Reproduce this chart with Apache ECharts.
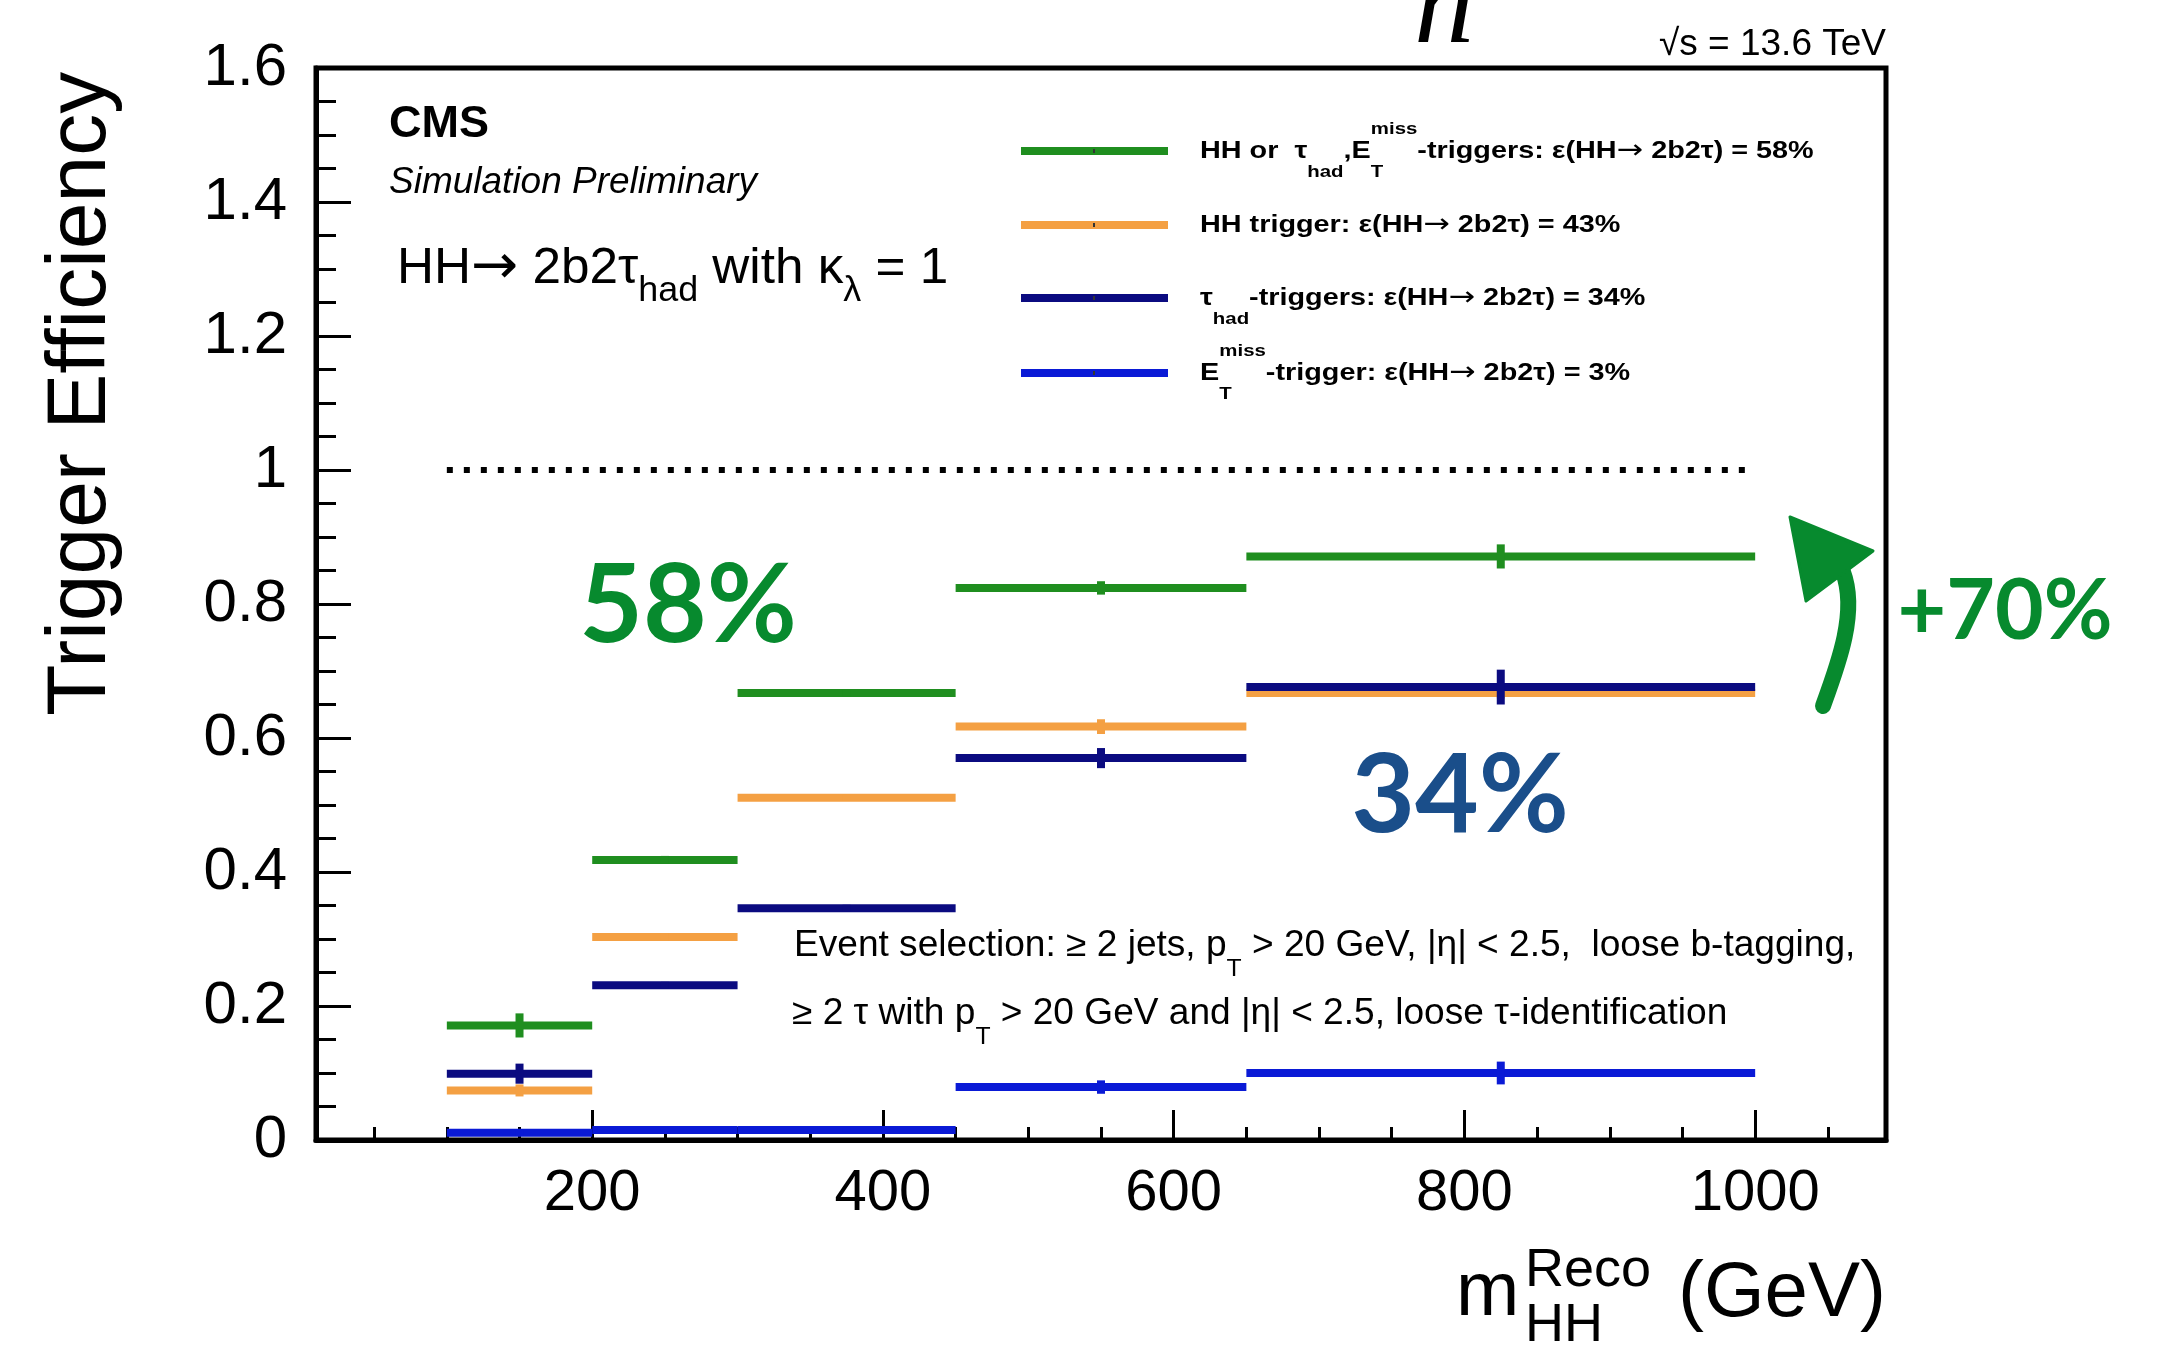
<!DOCTYPE html>
<html>
<head>
<meta charset="utf-8">
<script src="https://cdn.jsdelivr.net/npm/echarts@6/dist/echarts.min.js"></script>
<style>
  html, body { margin: 0; padding: 0; background: #ffffff; }
  #chart { width: 2172px; height: 1346px; }
</style>
</head>
<body>
<div id="chart"></div>
<script>
// m_HH^Reco bins (GeV)
const binLow    = [100, 200, 300, 450, 650];
const binHigh   = [200, 300, 450, 650, 1000];
const binCenter = [150, 250, 375, 550, 825];

// Trigger efficiency per bin and its uncertainty
const effHHorTauMet = [0.171, 0.418, 0.667, 0.824, 0.871];
const errHHorTauMet = [0.018, 0.006, 0.005, 0.010, 0.018];
const effHH         = [0.074, 0.303, 0.511, 0.617, 0.667];
const errHH         = [0.009, 0.006, 0.004, 0.011, 0.008];
const effTau        = [0.099, 0.231, 0.346, 0.570, 0.676];
const errTau        = [0.015, 0.005, 0.005, 0.015, 0.026];
const effMet        = [0.011, 0.015, 0.015, 0.079, 0.100];
const errMet        = [0.005, 0.003, 0.003, 0.010, 0.017];

// Reference line at efficiency = 1
const unityLine = [[100, 1], [1000, 1]];

// Axis ticks
const xMajorTicks = [200, 400, 600, 800, 1000];
const xMinorTicks = [50, 100, 150, 250, 300, 350, 450, 500, 550, 650, 700, 750, 850, 900, 950, 1050];

// Legend labels (rich text markup)
const legendLabels = [
  '{m|HH or  τ}{s|had}{m|,E}{t|T}{p|miss}{m|-triggers: ε(HH}{a|→}{m| 2b2τ) = 58%}',
  '{m|HH trigger: ε(HH}{a|→}{m| 2b2τ) = 43%}',
  '{m|τ}{s|had}{m|-triggers: ε(HH}{a|→}{m| 2b2τ) = 34%}',
  '{m|E}{t|T}{p|miss}{m|-trigger: ε(HH}{a|→}{m| 2b2τ) = 3%}'
];

const C_GREEN  = '#1f8e1f';
const C_ORANGE = '#f4a043';
const C_NAVY   = '#0b0b80';
const C_BLUE   = '#0a1ad6';
const C_ANNOT_GREEN = '#078a2e';
const C_ANNOT_BLUE  = '#1a4e8a';
const SANS = 'Liberation Sans';

// Horizontal bin segment + vertical error bar, drawn through the axis scales
function stepSeries(name, color, eff, err) {
  const data = eff.map((v, i) => [binLow[i], binHigh[i], binCenter[i], v, err[i]]);
  return {
    type: 'custom',
    name: name,
    data: data,
    xAxisIndex: 0,
    yAxisIndex: 0,
    encode: { x: [0, 1, 2], y: 3 },
    clip: false,
    silent: true,
    z: 3,
    renderItem: function (params, api) {
      const y = api.value(3), e = api.value(4), xc = api.value(2);
      const a = api.coord([api.value(0), y]);
      const b = api.coord([api.value(1), y]);
      const t = api.coord([xc, y + e]);
      const u = api.coord([xc, y - e]);
      return {
        type: 'group',
        children: [
          { type: 'line', shape: { x1: a[0], y1: a[1], x2: b[0], y2: b[1] },
            style: { stroke: color, lineWidth: 8 } },
          { type: 'line', shape: { x1: t[0], y1: t[1], x2: u[0], y2: u[1] },
            style: { stroke: color, lineWidth: 8 } }
        ]
      };
    }
  };
}

// Rich-text styles: m = main, s = subscript, t = stacked subscript (zero advance),
// p = superscript, a = arrow glyph
function richSet(fs, L, subFs, d, supFs, u, extra) {
  const base = Object.assign({ fontFamily: SANS, fill: '#000' }, extra || {});
  return {
    m: Object.assign({}, base, { fontSize: fs, lineHeight: L, verticalAlign: 'middle' }),
    a: Object.assign({}, base, { fontSize: fs * 1.1, lineHeight: L, verticalAlign: 'middle',
                                 fontFamily: 'DejaVu Sans', fontWeight: 'normal' }),
    s: Object.assign({}, base, { fontSize: subFs, lineHeight: L - 2 * d, verticalAlign: 'bottom' }),
    t: Object.assign({}, base, { fontSize: subFs, lineHeight: L - 2 * d, verticalAlign: 'bottom', width: 0.1 }),
    p: Object.assign({}, base, { fontSize: supFs, lineHeight: L - 2 * u, verticalAlign: 'top' })
  };
}

function txt(x, y, style, extra) {
  return Object.assign({
    type: 'text', x: x, y: y, silent: true, z: 20,
    style: Object.assign({ x: 0, y: 0, fill: '#000', align: 'left', verticalAlign: 'middle', fontFamily: SANS }, style)
  }, extra || {});
}

const graphics = [];

// Axis titles
graphics.push(txt(82, 716, { text: 'Trigger Efficiency', fontSize: 84 }, { rotation: Math.PI / 2 }));
graphics.push(txt(1456, 1294, { text: 'm', fontSize: 76 }));
graphics.push(txt(1525, 1271, { text: 'Reco', fontSize: 54 }));
graphics.push(txt(1525, 1326, { text: 'HH', fontSize: 54 }));
graphics.push(txt(1886, 1294, { text: '(GeV)', fontSize: 78, align: 'right' }));

// Experiment labels
graphics.push(txt(389, 125, { text: 'CMS', fontSize: 45, fontWeight: 'bold' }));
graphics.push(txt(389, 183, { text: 'Simulation Preliminary', fontSize: 37, fontStyle: 'italic' }));
graphics.push(txt(397, 269, {
  text: '{m|HH}{a|→}{m| 2b2τ}{s|had}{m| with κ}{s|λ}{m| = 1}',
  rich: richSet(50, 80, 35, 22, 35, 22)
}, { scaleX: 1.025 }));
graphics.push(txt(1886, 45, { text: '√s = 13.6 TeV', fontSize: 37, align: 'right' }));

// Partially visible heading glyph at the top edge
graphics.push(txt(1414, 10, { text: 'h', fontSize: 120, fontFamily: 'Liberation Serif', fontStyle: 'italic' }));

// Legend
const legendColors = [C_GREEN, C_ORANGE, C_NAVY, C_BLUE];
const legendY = [151, 225, 298, 373];
legendLabels.forEach(function (lab, i) {
  graphics.push({ type: 'line', silent: true, z: 20,
    shape: { x1: 1021, y1: legendY[i], x2: 1168, y2: legendY[i] },
    style: { stroke: legendColors[i], lineWidth: 8 } });
  graphics.push({ type: 'rect', silent: true, z: 21,
    shape: { x: 1093, y: legendY[i] - 2, width: 2, height: 4 },
    style: { fill: '#333' } });
  graphics.push(txt(1200, legendY[i], {
    text: lab,
    rich: richSet(24, 60, 17, 15, 17, 16, { fontWeight: 'bold' })
  }, { scaleX: 1.2 }));
});

// Event selection note
graphics.push(txt(794, 946, {
  text: '{m|Event selection: ≥ 2 jets, p}{s|T}{m| > 20 GeV, |η| < 2.5,  loose b-tagging,}',
  rich: richSet(36, 70, 24, 23, 24, 20)
}, { scaleX: 1.03 }));
graphics.push(txt(792, 1014, {
  text: '{m|≥ 2 τ with p}{s|T}{m| > 20 GeV and |η| < 2.5, loose τ-identification}',
  rich: richSet(36, 70, 24, 23, 24, 20)
}, { scaleX: 1.03 }));

// Highlighted numbers
graphics.push(txt(688, 607, { text: '58%', fontSize: 110, fontFamily: 'Lato', fontWeight: 'bold', fill: C_ANNOT_GREEN, align: 'center' }));
graphics.push(txt(1460, 797, { text: '34%', fontSize: 110, fontFamily: 'Lato', fontWeight: 'bold', fill: C_ANNOT_BLUE, align: 'center' }));
graphics.push(txt(2005, 612, { text: '+70%', fontSize: 84, fontFamily: 'Lato', fontWeight: 'bold', fill: C_ANNOT_GREEN, align: 'center' }));

// Curved arrow
graphics.push({ type: 'bezierCurve', silent: true, z: 20,
  shape: { x1: 1823, y1: 706, cpx1: 1838, cpy1: 665, cpx2: 1858, cpy2: 612, x2: 1843, y2: 572 },
  style: { stroke: C_ANNOT_GREEN, lineWidth: 16, lineCap: 'round', fill: null } });
graphics.push({ type: 'polygon', silent: true, z: 20,
  shape: { points: [[1790, 517], [1873, 551], [1806, 601]] },
  style: { fill: C_ANNOT_GREEN, stroke: C_ANNOT_GREEN, lineWidth: 3, lineJoin: 'round' } });

const option = {
  animation: false,
  backgroundColor: '#ffffff',
  textStyle: { fontFamily: SANS },
  grid: {
    left: 316, right: 286, top: 68, bottom: 206,
    show: true, borderColor: '#000', borderWidth: 5,
    containLabel: false, outerBoundsMode: 'none'
  },
  xAxis: [
    {
      type: 'value', min: 10, max: 1090, position: 'bottom',
      axisLine: { show: true, onZero: false, lineStyle: { color: '#000', width: 5 } },
      axisTick: { show: true, inside: true, length: 30, customValues: xMajorTicks,
                  lineStyle: { color: '#000', width: 3 } },
      axisLabel: { show: true, customValues: xMajorTicks, fontSize: 58, color: '#000',
                   margin: 25, fontFamily: SANS,
                   formatter: function (v) { return String(v); } },
      splitLine: { show: false }
    },
    {
      type: 'value', min: 10, max: 1090, position: 'bottom',
      axisLine: { show: false },
      axisTick: { show: true, inside: true, length: 13, customValues: xMinorTicks,
                  lineStyle: { color: '#000', width: 3 } },
      axisLabel: { show: false },
      splitLine: { show: false }
    }
  ],
  yAxis: {
    type: 'value', min: 0, max: 1.6, interval: 0.2,
    axisLine: { show: true, onZero: false, lineStyle: { color: '#000', width: 5 } },
    axisTick: { show: true, inside: true, length: 35, lineStyle: { color: '#000', width: 3 } },
    minorTick: { show: true, splitNumber: 4, length: 20, lineStyle: { color: '#000', width: 3 } },
    axisLabel: { fontSize: 60, color: '#000', margin: 29, fontFamily: SANS },
    splitLine: { show: false }
  },
  series: [
    {
      type: 'line', name: 'unity', data: unityLine, symbol: 'none', silent: true,
      xAxisIndex: 0, yAxisIndex: 0, z: 2,
      lineStyle: { color: '#000', width: 6, type: [6, 11] }
    },
    stepSeries('HH or tau/MET triggers', C_GREEN, effHHorTauMet, errHHorTauMet),
    stepSeries('HH trigger', C_ORANGE, effHH, errHH),
    stepSeries('tau triggers', C_NAVY, effTau, errTau),
    stepSeries('MET trigger', C_BLUE, effMet, errMet)
  ],
  graphic: { elements: graphics }
};

const chart = echarts.init(document.getElementById('chart'), null, { renderer: 'canvas' });
chart.setOption(option);
</script>
</body>
</html>
